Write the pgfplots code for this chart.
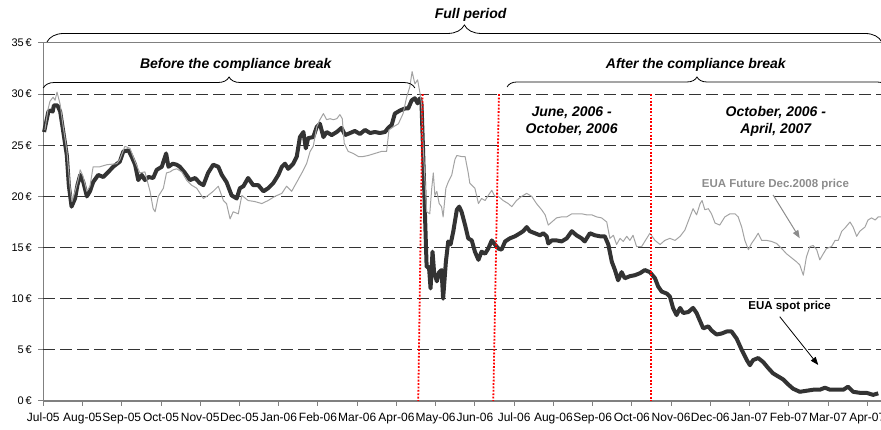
\documentclass[border=0pt]{standalone}
\usepackage{pgfplots}
\pgfplotsset{compat=1.18}
\usepackage{pgfplotstable}
\usepackage{fontspec}
\setmainfont{Liberation Sans}
\usetikzlibrary{decorations.pathreplacing,arrows.meta}
\definecolor{spot}{HTML}{333333}
\definecolor{fut}{HTML}{A3A3A3}
\definecolor{axgray}{HTML}{808080}
\definecolor{futtext}{HTML}{8C8C8C}

\pgfplotstableread{
x y
0.02 26.3
0.13 28.3
0.19 28.4
0.24 28.3
0.27 28.9
0.36 28.9
0.43 28.3
0.51 26.3
0.60 24.0
0.65 21.1
0.72 19.0
0.81 19.8
0.87 21.1
0.94 22.1
1.02 21.4
1.11 20.0
1.19 20.5
1.27 21.4
1.40 22.1
1.53 21.9
1.66 22.4
1.78 22.9
1.95 23.4
2.04 24.4
2.17 24.5
2.25 23.9
2.34 23.1
2.42 21.6
2.51 22.1
2.59 21.6
2.68 21.9
2.80 21.8
2.89 22.6
3.02 22.9
3.13 24.2
3.19 22.9
3.30 23.2
3.40 23.1
3.48 22.9
3.61 22.3
3.74 21.6
3.87 21.8
3.99 21.3
4.08 21.1
4.20 22.3
4.33 23.1
4.46 22.9
4.55 22.1
4.67 21.4
4.80 20.1
4.93 19.8
5.01 20.8
5.10 21.0
5.22 21.8
5.35 21.1
5.48 21.1
5.61 20.5
5.73 20.8
5.86 21.3
5.99 22.1
6.08 22.9
6.16 23.2
6.24 22.7
6.37 23.2
6.46 23.9
6.54 25.8
6.63 26.3
6.69 24.7
6.75 25.7
6.88 25.8
6.97 26.8
7.05 27.1
7.14 25.8
7.22 26.3
7.35 26.0
7.48 26.3
7.60 26.7
7.69 26.0
7.82 26.2
7.94 26.4
8.07 26.1
8.20 26.5
8.33 26.2
8.45 26.3
8.58 26.2
8.71 26.3
8.79 26.7
8.88 27.0
8.96 28.1
9.09 28.4
9.22 28.6
9.30 28.6
9.39 29.4
9.47 29.6
9.54 29.1
9.60 29.6
9.64 29.0
9.68 24.4
9.73 17.9
9.77 13.1
9.83 13.1
9.87 11.0
9.92 14.6
9.96 12.6
10.03 11.7
10.09 12.6
10.15 12.8
10.19 10.0
10.26 13.6
10.32 15.6
10.38 15.3
10.45 16.6
10.54 18.7
10.60 19.0
10.66 18.5
10.75 17.2
10.83 15.9
10.92 15.7
11.00 14.6
11.09 13.8
11.17 14.6
11.26 14.4
11.34 14.9
11.43 15.7
11.51 15.3
11.60 14.9
11.68 14.8
11.77 15.6
11.89 15.9
12.02 16.1
12.15 16.4
12.23 16.6
12.32 17.0
12.40 16.6
12.53 16.4
12.66 16.2
12.74 16.4
12.83 16.1
12.87 15.4
12.96 15.7
13.08 15.7
13.21 15.6
13.34 15.9
13.47 16.6
13.59 16.2
13.72 15.9
13.80 15.6
13.93 16.4
14.06 16.2
14.19 16.1
14.31 16.1
14.40 15.3
14.49 13.6
14.57 12.8
14.65 11.8
14.74 12.6
14.82 12.0
14.95 12.2
15.08 12.3
15.21 12.5
15.33 12.8
15.46 12.6
15.59 12.0
15.67 11.2
15.76 10.7
15.89 10.5
15.97 10.2
16.05 9.1
16.14 8.4
16.23 9.1
16.31 8.6
16.44 8.7
16.56 9.1
16.65 8.6
16.74 7.8
16.82 7.1
16.95 7.3
17.03 6.9
17.16 6.5
17.29 6.6
17.42 6.8
17.54 6.8
17.67 6.1
17.80 5.0
17.93 4.0
18.01 3.5
18.09 4.0
18.22 4.2
18.35 3.8
18.48 3.2
18.60 2.7
18.73 2.4
18.86 2.1
18.99 1.6
19.11 1.2
19.28 0.9
19.45 1.0
19.62 1.1
19.79 1.1
19.92 1.3
20.05 1.1
20.22 1.1
20.39 1.1
20.51 1.4
20.64 0.9
20.81 0.8
20.98 0.8
21.15 0.6
21.28 0.75
}\spotdata

\pgfplotstableread{
x y
0.04 26.5
0.12 28.5
0.17 29.3
0.25 29.7
0.30 29.4
0.35 30.2
0.43 29.0
0.50 27.0
0.60 24.5
0.68 21.0
0.73 19.5
0.81 20.5
0.88 21.5
0.94 22.6
1.01 22.0
1.11 20.5
1.19 21.0
1.27 22.9
1.44 22.9
1.62 23.1
1.87 23.2
1.95 23.6
2.08 24.9
2.21 24.7
2.34 23.4
2.46 22.3
2.59 22.4
2.72 20.5
2.80 18.8
2.85 18.5
2.93 20.0
3.06 20.8
3.14 22.3
3.23 22.4
3.31 22.6
3.40 22.7
3.53 22.4
3.65 21.6
3.78 21.1
3.91 20.8
4.08 19.8
4.20 20.1
4.33 20.5
4.46 21.0
4.59 19.6
4.67 19.3
4.76 17.8
4.84 18.5
4.97 18.3
5.06 20.1
5.22 19.6
5.39 19.5
5.57 19.3
5.73 19.6
5.90 20.0
6.08 20.3
6.20 21.0
6.33 20.5
6.46 21.4
6.59 22.3
6.71 23.2
6.80 24.4
6.88 24.9
6.97 26.8
7.05 27.5
7.14 28.1
7.22 27.5
7.31 27.6
7.39 27.5
7.48 27.6
7.56 28.0
7.62 27.6
7.67 25.2
7.77 24.4
7.90 24.2
8.03 23.9
8.15 23.9
8.28 24.0
8.45 24.2
8.62 24.4
8.75 24.4
8.81 26.5
8.92 26.8
9.05 27.1
9.17 28.1
9.26 29.7
9.34 30.7
9.40 32.2
9.47 31.0
9.54 31.4
9.60 30.1
9.64 29.1
9.68 25.0
9.77 18.5
9.85 18.3
9.90 20.8
9.94 22.3
9.98 20.1
10.03 20.5
10.09 19.3
10.15 19.0
10.19 18.0
10.26 20.8
10.32 21.4
10.41 22.1
10.49 23.6
10.54 24.0
10.66 23.9
10.75 23.9
10.83 22.3
10.87 21.3
11.00 20.8
11.09 19.3
11.17 19.8
11.26 19.6
11.34 20.1
11.43 20.6
11.51 20.0
11.60 20.0
11.72 19.6
11.85 19.3
11.94 19.0
12.06 19.6
12.19 20.0
12.32 20.3
12.45 20.0
12.57 19.3
12.70 18.7
12.79 18.2
12.87 17.2
12.96 17.5
13.08 17.9
13.21 18.0
13.34 18.0
13.47 18.3
13.59 18.3
13.72 18.3
13.85 18.2
13.98 18.2
14.10 18.0
14.23 17.9
14.36 17.5
14.44 15.9
14.53 16.2
14.61 15.3
14.70 15.9
14.78 15.6
14.87 16.1
14.95 15.7
15.03 16.2
15.12 15.1
15.25 15.1
15.33 15.6
15.46 16.4
15.59 15.7
15.72 15.3
15.84 15.7
15.97 15.9
16.10 15.7
16.23 16.1
16.35 16.7
16.48 18.0
16.56 18.8
16.65 18.2
16.74 19.3
16.79 19.6
16.86 18.7
16.95 18.8
17.03 18.3
17.12 17.4
17.24 17.2
17.37 18.0
17.50 18.3
17.63 18.3
17.71 18.0
17.80 17.0
17.88 15.7
17.97 14.8
18.05 15.4
18.14 15.9
18.22 16.4
18.31 15.7
18.44 15.7
18.56 15.6
18.69 15.4
18.82 14.9
18.94 14.4
19.07 14.0
19.20 13.6
19.28 13.3
19.37 12.3
19.45 14.1
19.54 15.1
19.62 15.2
19.71 14.8
19.79 13.8
19.88 14.4
19.96 14.9
20.09 15.1
20.18 15.7
20.26 15.7
20.35 16.6
20.43 16.9
20.56 17.5
20.64 17.0
20.73 16.1
20.81 16.6
20.94 17.0
21.02 17.7
21.11 17.9
21.20 17.7
21.28 18.0
21.35 18.0
}\futdata

\begin{document}
\begin{tikzpicture}
\begin{axis}[
  at={(0pt,0pt)}, anchor=south west,
  scale only axis, width=837.7pt, height=358pt,
  xmin=0, xmax=21.35, ymin=0, ymax=35,
  axis x line*=bottom, axis y line*=left,
  axis line style={draw=axgray, line width=1.3pt},
  xtick={0,...,21},
  xticklabels={Jul-05,Aug-05,Sep-05,Oct-05,Nov-05,Dec-05,Jan-06,Feb-06,Mar-06,Apr-06,May-06,Jun-06,Jul-06,Aug-06,Sep-06,Oct-06,Nov-06,Dec-06,Jan-07,Feb-07,Mar-07,Apr-07},
  ytick={0,5,...,35},
  yticklabels={0\,€,5\,€,10\,€,15\,€,20\,€,25\,€,30\,€,35\,€},
  tick align=outside, major tick length=5pt,
  tick style={draw=axgray, line width=1pt},
  x tick label style={font=\fontsize{12}{14}\selectfont, text=black, text height=9pt, text depth=2.5pt, anchor=north, yshift=-3pt},
  y tick label style={font=\fontsize{11}{13}\selectfont, text=black, xshift=-3pt},
  clip=false,
]
% grid lines
\pgfplotsinvokeforeach{5,10,15,20,25,30}{
  \draw[black!80, line width=0.9pt, dash pattern=on 12pt off 5pt] (axis cs:0,#1) -- (axis cs:21.35,#1);
}
\draw[axgray, line width=1pt] (axis cs:0,35) -- (axis cs:21.35,35);

\addplot[spot, line width=4pt, line join=round, no marks] table[x=x,y=y] {\spotdata};
\addplot[fut, line width=1pt, line join=round, no marks] table[x=x,y=y] {\futdata};

% red dotted separators
\draw[red, line width=1.8pt, dash pattern=on 1.8pt off 1.6pt] (axis cs:9.668,30) -- (axis cs:9.556,0);
\draw[red, line width=1.8pt, dash pattern=on 1.8pt off 1.6pt] (axis cs:11.613,30) -- (axis cs:11.468,0);
\draw[red, line width=1.8pt, dash pattern=on 1.8pt off 1.6pt] (axis cs:15.479,30) -- (axis cs:15.479,0);

% braces
\draw[decorate, decoration={brace, amplitude=17pt}, line width=0.8pt] (axis cs:0.094,35.10) -- (axis cs:21.37,35.10);
\draw[decorate, decoration={brace, amplitude=11pt}, line width=0.8pt] (axis cs:0,30.60) -- (axis cs:9.47,30.60);
\draw[decorate, decoration={brace, amplitude=10pt}, line width=0.8pt] (axis cs:11.82,30.70) -- (axis cs:21.50,30.70);

% texts
\node[font=\fontsize{14}{16}\selectfont\bfseries\itshape, anchor=base] at (axis cs:10.89,37.41) {Full period};
\node[font=\fontsize{14}{16}\selectfont\bfseries\itshape, anchor=base] at (axis cs:4.906,32.53) {Before the compliance break};
\node[font=\fontsize{14}{16}\selectfont\bfseries\itshape, anchor=base] at (axis cs:16.63,32.53) {After the compliance break};
\node[font=\fontsize{14}{16}\selectfont\bfseries\itshape, anchor=base] at (axis cs:13.466,27.79) {June, 2006 -};
\node[font=\fontsize{14}{16}\selectfont\bfseries\itshape, anchor=base] at (axis cs:13.466,26.17) {October, 2006};
\node[font=\fontsize{14}{16}\selectfont\bfseries\itshape, anchor=base] at (axis cs:18.67,27.79) {October, 2006 -};
\node[font=\fontsize{14}{16}\selectfont\bfseries\itshape, anchor=base] at (axis cs:18.67,26.17) {April, 2007};
\node[font=\fontsize{11.5}{13}\selectfont\bfseries, text=futtext, anchor=base] at (axis cs:18.66,20.89) {EUA Future Dec.2008 price};
\node[font=\fontsize{11.5}{13}\selectfont\bfseries, text=black, anchor=base] at (axis cs:19.02,8.96) {EUA spot price};

% arrows
\draw[futtext, line width=1pt, -{Triangle[length=8pt,width=6pt]}] (axis cs:18.60,20.14) -- (axis cs:19.28,15.91);
\draw[black, line width=0.8pt, -{Triangle[length=8pt,width=6pt]}] (axis cs:18.77,8.24) -- (axis cs:19.75,3.52);
\end{axis}
\pgfresetboundingbox
\path[use as bounding box] (-43.3pt,-29pt) rectangle (837.7pt,401pt);
\end{tikzpicture}
\end{document}
